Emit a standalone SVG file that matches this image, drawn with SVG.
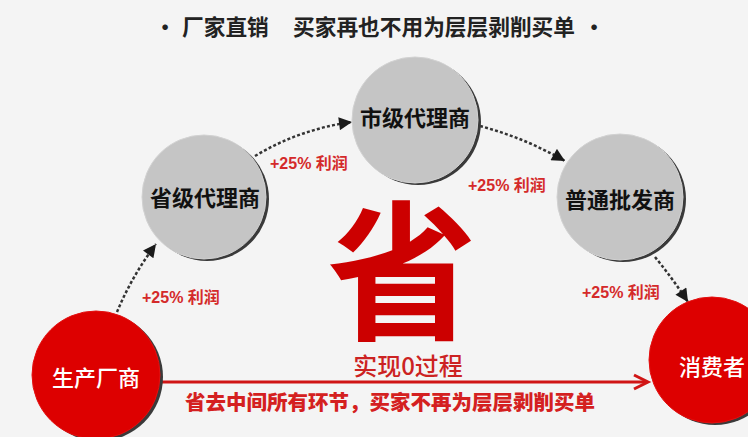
<svg xmlns="http://www.w3.org/2000/svg" width="748" height="437" viewBox="0 0 748 437">
<defs>
<style>
.cjk{font-family:"Noto Sans CJK SC","Liberation Sans",sans-serif}
.title{font-size:21.7px;font-weight:700;fill:#222}
.node-gray{fill:#c5c5c5;stroke:#d2d2d2;stroke-width:1}
.node-red{fill:#dd0000;stroke:#e41010;stroke-width:1}
.shadow{fill:#3a3a3a}
.lbl-dark{font-size:22px;font-weight:700;fill:#111;text-anchor:middle}
.lbl-white{font-size:22px;font-weight:500;fill:#fff;text-anchor:middle}
.profit{font-family:"Liberation Sans","Noto Sans CJK SC",sans-serif;font-size:16px;font-weight:700;fill:#d42a2a}
.dotted{fill:none;stroke:#333;stroke-width:2.5;stroke-dasharray:3 2.2}
</style>
<marker id="tri" viewBox="0 0 10 10" refX="10" refY="5" markerUnits="userSpaceOnUse" markerWidth="15" markerHeight="13" orient="auto">
<path d="M0,0 L10,5 L0,10 z" fill="#1a1a1a"/>
</marker>
</defs>
<rect width="748" height="437" fill="#f4f4f4"/>

<text class="cjk title" x="165" y="35" text-anchor="middle">•</text>
<text class="cjk title" x="182" y="35">厂家直销</text>
<text class="cjk title" x="293" y="35">买家再也不用为层层剥削买单</text>
<text class="cjk title" x="594" y="35" text-anchor="middle">•</text>

<g id="connectors">
<path class="dotted" d="M117,312 Q132,276 156,244" marker-end="url(#tri)"/>
<path class="dotted" d="M255,156 Q300,129 352,122" marker-end="url(#tri)"/>
<path class="dotted" d="M480,126 Q525,138 565,161" marker-end="url(#tri)"/>
<path class="dotted" d="M655,257 Q673,279 688,302" marker-end="url(#tri)"/>
<path d="M161,382 L646,382" stroke="#d01515" stroke-width="3" fill="none"/>
<path d="M634,375 L648,382 L634,389" stroke="#d01515" stroke-width="3" fill="none"/>
</g>

<g id="provincial">
<circle class="shadow" cx="207" cy="199" r="62"/>
<circle class="node-gray" cx="204" cy="197" r="62"/>
<text class="cjk lbl-dark" x="205" y="206">省级代理商</text>
</g>
<g id="city">
<circle class="shadow" cx="418" cy="122" r="63"/>
<circle class="node-gray" cx="415" cy="120" r="63"/>
<text class="cjk lbl-dark" x="415" y="126">市级代理商</text>
</g>
<g id="wholesale">
<circle class="shadow" cx="623" cy="199" r="63"/>
<circle class="node-gray" cx="620" cy="197" r="63"/>
<text class="cjk lbl-dark" x="620" y="208">普通批发商</text>
</g>
<g id="manufacturer">
<circle class="shadow" cx="99" cy="377" r="64"/>
<circle class="node-red" cx="96" cy="375" r="64"/>
<text class="cjk lbl-white" x="96" y="386">生产厂商</text>
</g>
<g id="consumer">
<circle class="shadow" cx="715" cy="362" r="63"/>
<circle class="node-red" cx="712" cy="360" r="63"/>
<text class="cjk lbl-white" x="712" y="375">消费者</text>
</g>

<text class="profit" x="142" y="303">+25% <tspan class="cjk">利润</tspan></text>
<text class="profit" x="270" y="169">+25% <tspan class="cjk">利润</tspan></text>
<text class="profit" x="468" y="191">+25% <tspan class="cjk">利润</tspan></text>
<text class="profit" x="582" y="298">+25% <tspan class="cjk">利润</tspan></text>

<text class="cjk" x="402" y="328" font-size="150" font-weight="700" fill="#cc0000" text-anchor="middle">省</text>
<text class="cjk" x="408" y="375" font-size="24" font-weight="500" fill="#cc2222" text-anchor="middle">实现0过程</text>
<text class="cjk" x="390" y="410" font-size="20.5" font-weight="900" fill="#d42020" text-anchor="middle">省去中间所有环节，买家不再为层层剥削买单</text>
</svg>
